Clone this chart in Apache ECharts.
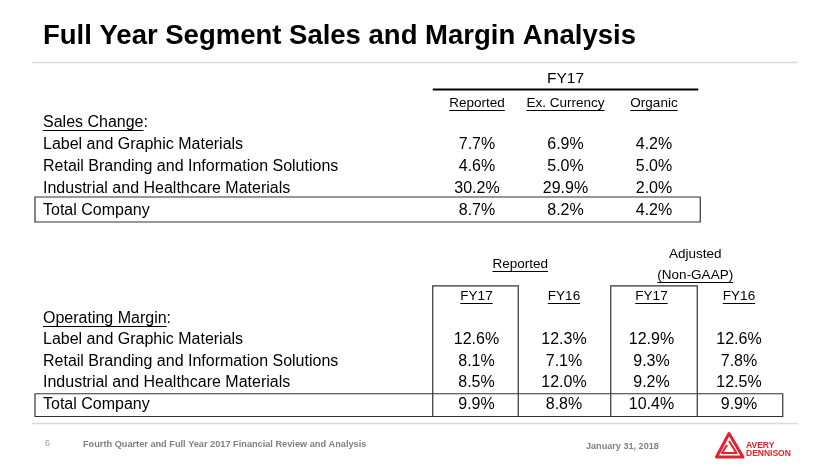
<!DOCTYPE html>
<html>
<head>
<meta charset="utf-8">
<script src="https://cdn.jsdelivr.net/npm/echarts@6/dist/echarts.min.js"></script>
<style>
html,body{margin:0;padding:0;background:#fff;}
#main{width:830px;height:467px;}
</style>
</head>
<body>
<div id="main"></div>
<script>
// ---------------- DATA ----------------
const titleText = 'Full Year Segment Sales and Margin Analysis';
const salesGroupLabel = 'FY17';
const salesColumns = ['Reported', 'Ex. Currency', 'Organic'];
const salesSectionLabel = 'Sales Change';
const marginSectionLabel = 'Operating Margin';
const segments = [
  'Label and Graphic Materials',
  'Retail Branding and Information Solutions',
  'Industrial and Healthcare Materials',
  'Total Company'
];
const salesReported   = [7.7, 4.6, 30.2, 8.7];
const salesExCurrency = [6.9, 5.0, 29.9, 8.2];
const salesOrganic    = [4.2, 5.0, 2.0, 4.2];

const marginGroupReported = 'Reported';
const marginGroupAdjusted = ['Adjusted', '(Non-GAAP)'];
const marginColumns = ['FY17', 'FY16', 'FY17', 'FY16'];
const marginReportedFY17 = [12.6, 8.1, 8.5, 9.9];
const marginReportedFY16 = [12.3, 7.1, 12.0, 8.8];
const marginAdjustedFY17 = [12.9, 9.3, 9.2, 10.4];
const marginAdjustedFY16 = [12.6, 7.8, 12.5, 9.9];

const footerPage = '6';
const footerText = 'Fourth Quarter and Full Year 2017 Financial Review and Analysis';
const footerDate = 'January 31, 2018';
const logoLines = ['AVERY', 'DENNISON'];

// ---------------- LAYOUT / STYLE ----------------
const FONT = '"Liberation Sans", Arial, Helvetica, sans-serif';
const LABEL_X = 43;
const RED = '#e3202b';
const pct = v => v.toFixed(1) + '%';

const mctx = document.createElement('canvas').getContext('2d');
function measure(text, fs, weight) {
  mctx.font = (weight || 'normal') + ' ' + fs + 'px ' + FONT;
  return mctx.measureText(text).width;
}

// ---- top table cells ----
const topCells = [];
topCells.push({kind: 'text', col: 0, colEnd: 2, row: 0, text: salesGroupLabel, fs: 15.5, dy: 0.5});
topCells.push({kind: 'hline', col: 0, colEnd: 2, row: 0, lw: 2});
salesColumns.forEach((t, i) => topCells.push({kind: 'text', col: i, row: 1, text: t, fs: 13.5, ul: true, dy: 2.5}));
topCells.push({kind: 'label', col: 0, row: 2, text: salesSectionLabel, suffix: ':', fs: 16, ul: true});
segments.forEach((s, i) => topCells.push({kind: 'label', col: 0, row: 3 + i, text: s, fs: 16}));
[salesReported, salesExCurrency, salesOrganic].forEach((arr, ci) =>
  arr.forEach((v, ri) => topCells.push({kind: 'text', col: ci, row: 3 + ri, text: pct(v), fs: 16})));
topCells.push({kind: 'box', col: 0, colEnd: 2, row: 6, rowEnd: 6, fromLabel: true, padT: 2.5, padB: 0.5, padR: 2});

// ---- bottom table cells ----
const botCells = [];
botCells.push({kind: 'text', col: 0, colEnd: 1, row: 0, rowMid: 1, text: marginGroupReported, fs: 13.5, ul: true});
botCells.push({kind: 'text', col: 2, colEnd: 3, row: 0, text: marginGroupAdjusted[0], fs: 13.5, dy: 1});
botCells.push({kind: 'text', col: 2, colEnd: 3, row: 1, text: marginGroupAdjusted[1], fs: 13.5, ul: true});
marginColumns.forEach((t, i) => botCells.push({kind: 'text', col: i, row: 2, text: t, fs: 13.5, ul: true}));
botCells.push({kind: 'label', col: 0, row: 3, text: marginSectionLabel, suffix: ':', fs: 16, ul: true});
segments.forEach((s, i) => botCells.push({kind: 'label', col: 0, row: 4 + i, text: s, fs: 16}));
[marginReportedFY17, marginReportedFY16, marginAdjustedFY17, marginAdjustedFY16].forEach((arr, ci) =>
  arr.forEach((v, ri) => botCells.push({kind: 'text', col: ci, row: 4 + ri, text: pct(v), fs: 16})));
botCells.push({kind: 'box', col: 0, colEnd: 0, row: 2, rowEnd: 7, padT: 0, padB: 1.2, padR: -2});
botCells.push({kind: 'box', col: 2, colEnd: 2, row: 2, rowEnd: 7, padT: 0, padB: 1.2, padL: -3, padR: 2});
botCells.push({kind: 'box', col: 0, colEnd: 3, row: 7, rowEnd: 7, fromLabel: true, padT: 0, padB: 1.2, padR: 0});

function makeRender(cells) {
  return function (params, api) {
    const c = cells[params.dataIndex];
    const sz = api.size([1, 1]);
    const bw = sz[0], bh = sz[1];
    const p = api.coord([c.col, c.row]);
    let cx = p[0], cy = p[1];
    if (c.colEnd != null && c.kind === 'text') cx = (cx + api.coord([c.colEnd, c.row])[0]) / 2;
    if (c.rowMid != null) cy = (cy + api.coord([c.col, c.rowMid])[1]) / 2;
    if (c.dy) cy += c.dy;
    const children = [];
    const ink = '#000';
    if (c.kind === 'text' || c.kind === 'label') {
      const left = c.kind === 'label';
      const x = left ? LABEL_X : cx;
      const full = c.text + (c.suffix || '');
      children.push({
        type: 'text', x: x, y: cy,
        style: {text: full, fontFamily: FONT, fontSize: c.fs, fill: ink,
                align: left ? 'left' : 'center', verticalAlign: 'middle'}
      });
      if (c.ul) {
        const w = measure(c.text, c.fs);
        const x1 = left ? x : x - measure(full, c.fs) / 2;
        const uy = Math.round(cy + 0.35 * c.fs + 2) + 0.5;
        children.push({type: 'line', shape: {x1: x1, y1: uy, x2: x1 + w, y2: uy},
                       style: {stroke: ink, lineWidth: 1}});
      }
    } else if (c.kind === 'hline') {
      const x1 = cx - bw / 2, x2 = api.coord([c.colEnd, c.row])[0] + bw / 2;
      const y = cy + bh / 2;
      children.push({type: 'line', shape: {x1: x1, y1: y, x2: x2, y2: y},
                     style: {stroke: ink, lineWidth: c.lw}});
    } else if (c.kind === 'box') {
      const x1 = c.fromLabel ? LABEL_X - 8 : cx - bw / 2 - (c.padL || 0);
      const x2 = api.coord([c.colEnd, c.row])[0] + bw / 2 + (c.padR || 0);
      const y1 = cy - bh / 2 - (c.padT || 0);
      const y2 = api.coord([c.col, c.rowEnd])[1] + bh / 2 + (c.padB || 0);
      children.push({type: 'rect', shape: {x: x1, y: y1, width: x2 - x1, height: y2 - y1},
                     style: {fill: 'none', stroke: '#333', lineWidth: 1.2}});
    }
    return {type: 'group', children: children};
  };
}

const chart = echarts.init(document.getElementById('main'), null, {renderer: 'canvas'});

const hiddenCat = (data, extra) => Object.assign({type: 'category', data: data, show: false,
  axisLine: {show: false}, axisTick: {show: false}, axisLabel: {show: false}, splitLine: {show: false}}, extra || {});

const topRows = ['group', 'header', 'section'].concat(segments);
const botRows = ['group1', 'group2', 'header', 'section'].concat(segments);

const option = {
  backgroundColor: '#ffffff',
  animation: false,
  title: {
    text: titleText, left: 43, top: 22, padding: 0,
    textStyle: {fontFamily: FONT, fontSize: 27.5, fontWeight: 'bold', color: '#000'}
  },
  grid: [
    {left: 432.75, width: 265.5, top: 67.5, height: 154, outerBoundsMode: 'none', containLabel: false},
    {left: 432.75, width: 350, top: 242.7, height: 172.6, outerBoundsMode: 'none', containLabel: false}
  ],
  xAxis: [
    hiddenCat(salesColumns, {gridIndex: 0}),
    hiddenCat(marginColumns.map((m, i) => m + '_' + i), {gridIndex: 1})
  ],
  yAxis: [
    hiddenCat(topRows, {gridIndex: 0, inverse: true}),
    hiddenCat(botRows, {gridIndex: 1, inverse: true})
  ],
  series: [
    {type: 'custom', name: 'Sales Change', xAxisIndex: 0, yAxisIndex: 0, clip: false, silent: true,
     renderItem: makeRender(topCells), data: topCells.map(c => [c.col, c.row])},
    {type: 'custom', name: 'Operating Margin', xAxisIndex: 1, yAxisIndex: 1, clip: false, silent: true,
     renderItem: makeRender(botCells), data: botCells.map(c => [c.col, c.row])}
  ],
  graphic: [
    {type: 'line', shape: {x1: 32, y1: 62.5, x2: 798, y2: 62.5}, style: {stroke: '#dadada', lineWidth: 1.5}, silent: true},
    {type: 'line', shape: {x1: 32, y1: 423.5, x2: 798, y2: 423.5}, style: {stroke: '#dadada', lineWidth: 1.5}, silent: true},
    {type: 'text', x: 45, y: 444, silent: true,
     style: {text: footerPage, fontFamily: FONT, fontSize: 9, fill: '#9a9a9a', verticalAlign: 'middle'}},
    {type: 'text', x: 83, y: 444, silent: true,
     style: {text: footerText, fontFamily: FONT, fontSize: 9.2, fontWeight: 'bold', fill: '#808080', verticalAlign: 'middle'}},
    {type: 'text', x: 586, y: 446, silent: true,
     style: {text: footerDate, fontFamily: FONT, fontSize: 9.1, fontWeight: 'bold', fill: '#808080', verticalAlign: 'middle'}},
    // logo mark
    {type: 'polygon', silent: true, shape: {points: [[729, 433.5], [743, 457], [716.5, 457]]},
     style: {fill: 'none', stroke: RED, lineWidth: 3, lineJoin: 'round'}},
    {type: 'polyline', silent: true, shape: {points: [[729, 441], [736.5, 453], [722, 453], [727, 445]]},
     style: {fill: 'none', stroke: RED, lineWidth: 2, lineJoin: 'round'}},
    {type: 'text', x: 746, y: 446, silent: true,
     style: {text: logoLines[0], fontFamily: FONT, fontSize: 8.5, fontWeight: 'bold', fill: RED, verticalAlign: 'middle'}},
    {type: 'text', x: 746, y: 454, silent: true,
     style: {text: logoLines[1], fontFamily: FONT, fontSize: 8.5, fontWeight: 'bold', fill: RED, verticalAlign: 'middle'}}
  ]
};
chart.setOption(option);
</script>
</body>
</html>
